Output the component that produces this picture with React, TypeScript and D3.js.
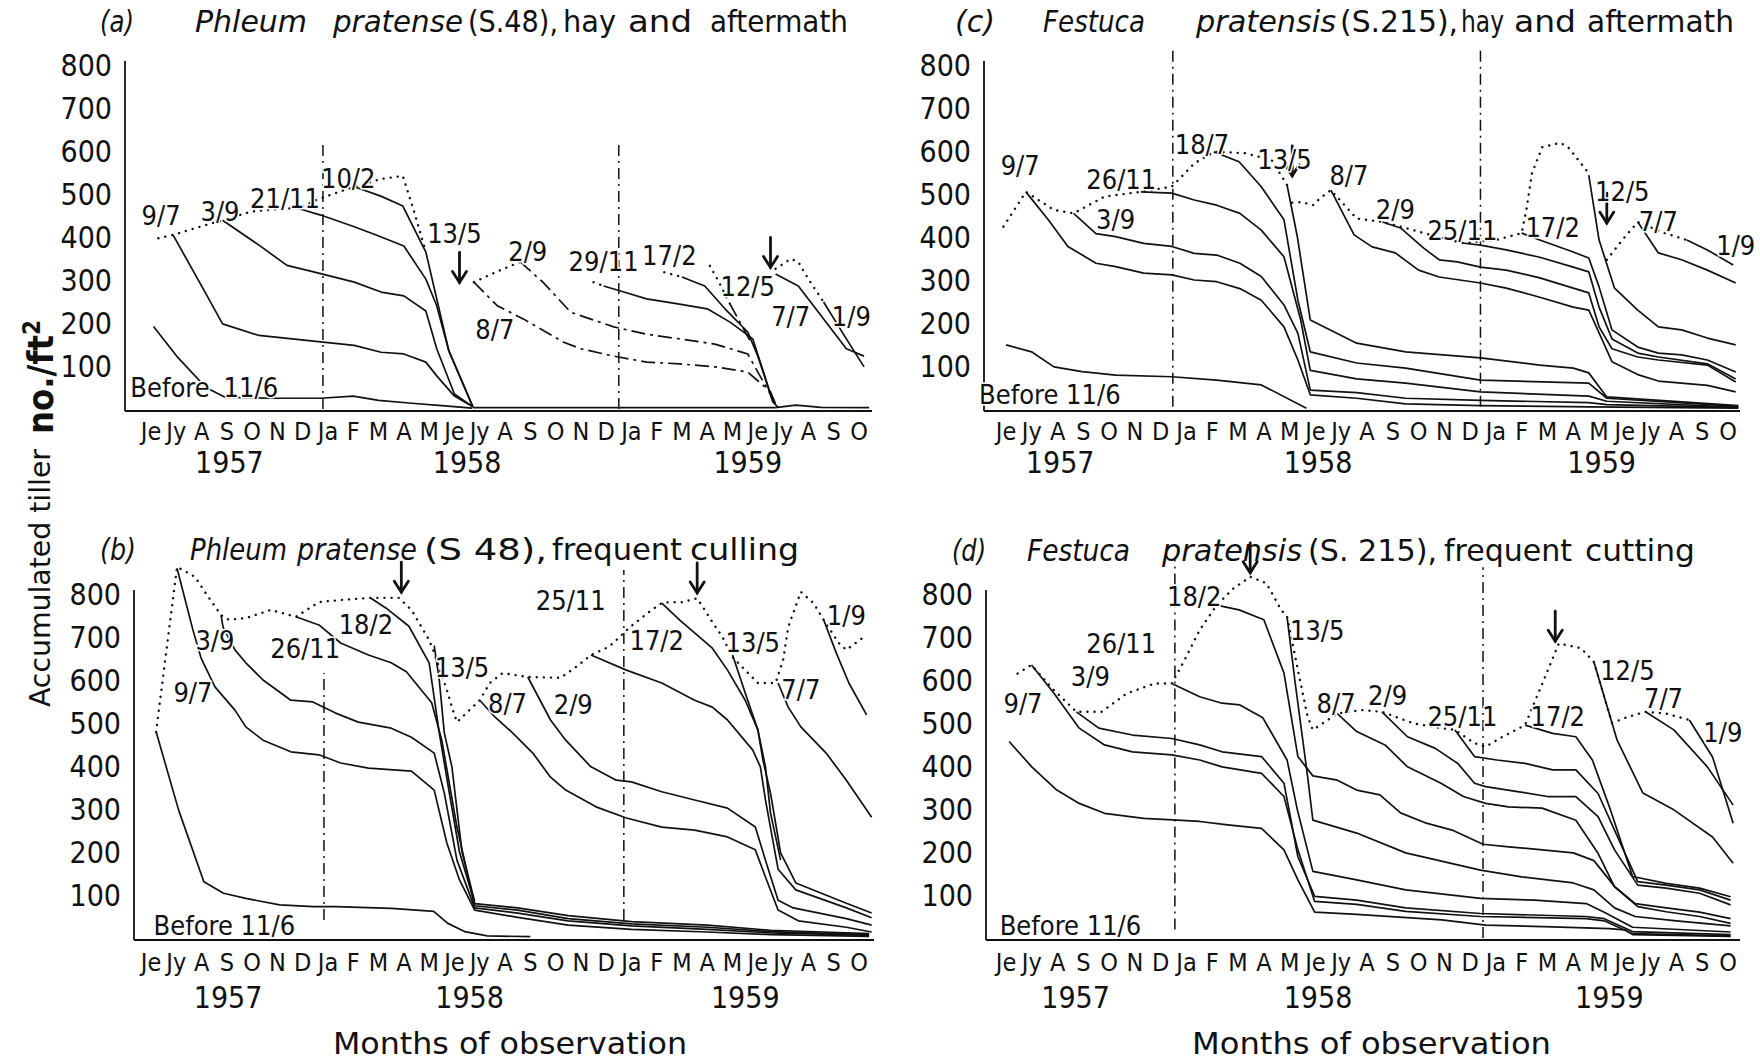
import React from "react";
import * as d3 from "d3";

type Pt = [number, number];
type Label = [string, number, number];

const FONT = "'Liberation Sans Narrow','DejaVu Sans Condensed','Arial Narrow',sans-serif";

const MONTHS = ["Je","Jy","A","S","O","N","D","Ja","F","M","A","M","Je","Jy","A","S","O","N","D","Ja","F","M","A","M","Je","Jy","A","S","O"];
const Y_TICKS = [100, 200, 300, 400, 500, 600, 700, 800];

// ---------- Panel (a) ----------
const A_TITLE = ["(a)", "Phleum", "pratense", "(S.48),", "hay", "and", "aftermath"];
const A_SOLID: Pt[][] = [
  [[0.1,192],[1.06,120],[2.17,50],[2.95,27],[5.0,25],[6.7,25],[8.0,30],[9.0,20],[10.2,14],[11.5,8],[12.7,2]],
  [[0.87,405],[2.06,280],[2.83,198],[4.27,171],[6.71,156],[8.04,148],[9.1,132],[10.0,128],[10.87,109],[11.3,77],[12.0,30],[12.73,5]],
  [[2.83,439],[4.27,381],[5.38,334],[6.71,315],[8.04,295],[9.1,272],[10.0,263],[10.87,228],[11.3,140],[12.0,35],[12.73,5]],
  [[5.8,467],[6.71,451],[8.04,424],[8.93,404],[10.0,379],[10.87,302],[11.3,240],[11.78,135],[12.73,5]],
  [[8.04,517],[9.09,495],[9.96,472],[10.87,365],[11.78,135],[12.73,5]],
  [[17.9,286],[18.7,272],[19.6,256],[20.9,244],[22.0,233],[22.9,202],[23.8,163],[24.6,16],[24.8,4]],
  [[21.0,307],[21.9,286],[22.7,233],[23.6,179],[24.0,123],[24.6,16]],
  [[24.7,314],[25.6,286],[26.2,240],[27.5,140],[28.2,123]],
  [[26.6,249],[27.5,163],[28.2,98]],
  [[12.73,3],[24.7,3],[25.5,9],[26.5,4],[28.4,3]],
];
const A_DASHDOT: Pt[][] = [
  [[12.77,295],[13.7,240],[14.74,209],[16.3,156],[17.0,140],[18.3,123],[19.6,109],[20.9,105],[22.3,98],[23.6,86],[24.5,40],[24.75,5]],
  [[14.6,342],[15.5,295],[16.6,225],[18.3,191],[19.6,174],[20.9,163],[22.3,151],[23.6,128],[24.6,23],[24.75,5]],
  [[22.9,244],[23.7,158]],
];
const A_TOTAL: Pt[][] = [
  [[0.29,397],[0.87,405],[2.0,425],[2.83,439],[3.95,459],[5.0,465],[5.8,467],[6.7,490],[8.04,517],[9.1,535],[9.96,542],[10.4,460],[10.87,365]],
  [[12.77,295],[13.7,320],[14.6,342]],
  [[17.5,295],[17.9,286]],
  [[20.3,318],[21.0,307]],
  [[22.1,333],[22.4,302],[22.9,244]],
  [[24.7,326],[25.3,349],[25.6,342],[26.0,302],[26.6,249]],
];
const A_ARROWS: Pt[] = [[12.2,285],[24.5,320]];
const A_LABELS: Label[] = [
  ["9/7",0.4,451],["3/9",2.73,459],["21/11",5.3,490],["10/2",7.8,537],["13/5",12.0,408],
  ["2/9",14.9,367],["8/7",13.6,186],["29/11",17.9,342],["17/2",20.5,356],["12/5",23.6,286],
  ["7/7",25.3,216],["1/9",27.7,216],["Before",0.75,51],["11/6",3.95,51],
];
const A_YEARLINES: [number, number, number][] = [[6.8,0,614],[18.5,0,620]];
const A_YEARS: [string, number][] = [["1957",3.1],["1958",12.5],["1959",23.6]];

// ---------- Panel (b) ----------
const B_TITLE = ["(b)", "Phleum", "pratense", "(S 48),", "frequent", "culling"];
const B_SOLID: Pt[][] = [
  [[0.2,480],[1.09,298],[2.09,131],[2.87,104],[3.75,92],[5.09,77],[6.42,73],[7.3,73],[9.52,69],[11.18,62],[11.74,34],[12.4,15],[13.3,5],[15,3]],
  [[1.03,860],[1.66,716],[1.98,651],[2.53,584],[3.32,530],[3.75,491],[4.43,460],[5.53,433],[6.64,426],[7.5,407],[8.6,395],[10.3,388],[11.2,344],[11.7,221],[12.2,135],[12.8,65],[14.5,48],[16.5,30],[19,20],[22,14],[24.5,8],[28.4,4]],
  [[2.77,751],[2.85,723],[3.32,670],[3.75,640],[4.43,600],[5.53,553],[6.4,549],[7.3,523],[8.2,502],[9.5,488],[10.3,467],[11.2,430],[11.6,337],[12.1,181],[12.8,70],[14.5,58],[16.5,40],[19,28],[22,20],[24.5,12],[28.4,6]],
  [[5.73,747],[6.64,728],[7.5,686],[8.6,658],[9.5,640],[10.1,619],[11.1,547],[11.5,460],[12.1,258],[12.8,75],[14.5,65],[16.5,45],[19,33],[22,25],[24.5,15],[28.4,8]],
  [[8.7,790],[9.3,767],[10.2,725],[11.0,640],[11.4,477],[11.8,337],[12.2,200],[12.8,80],[14.5,70],[16.5,52],[19,38],[22,30],[24.5,18],[28.4,10]],
  [[11.2,680],[11.4,600],[11.6,477],[11.9,398],[12.3,200],[12.8,85]],
  [[13.0,553],[13.6,514],[14.3,477],[15.1,430],[15.8,374],[16.4,344],[17.6,305],[18.8,279],[20.2,258],[21.5,251],[22.8,235],[23.9,205],[24.3,142],[24.8,65],[25.6,40],[27.5,25],[28.5,14]],
  [[14.9,607],[15.8,507],[16.4,460],[17.4,398],[18.4,367],[19.0,363],[20.2,340],[21.5,321],[22.8,302],[23.9,258],[24.3,181],[24.8,88],[25.4,70],[27.5,45],[28.5,30]],
  [[17.4,658],[18.8,623],[20.2,593],[21.5,553],[22.2,537],[22.8,507],[23.8,437],[24.1,398],[24.3,321],[24.8,160],[25.5,112],[27.5,70],[28.5,47]],
  [[20.2,779],[20.9,740],[22.2,674],[22.8,623],[23.5,553],[24.0,484],[24.2,414],[24.5,337],[24.9,198],[25.5,128],[27.5,81],[28.5,58]],
  [[23.0,658],[23.5,570],[24.0,484],[24.3,398],[24.5,291],[24.9,181]],
  [[24.8,593],[25.2,537],[25.7,491],[26.7,430],[27.5,367],[28.5,281]],
  [[26.6,740],[27.1,663],[27.6,593],[28.3,519]],
];
const B_TOTAL: Pt[][] = [
  [[0.2,479],[1.03,863],[1.74,840],[2.21,798],[2.77,751],[3.08,740],[3.75,744],[4.74,763],[5.73,747],[6.64,781],[7.5,786],[8.7,791],[9.8,791],[10.3,763],[11.0,693],[11.2,663],[11.7,577],[11.9,537],[12.1,502],[13.0,553],[13.4,593],[13.9,616],[14.9,607],[16.2,605],[16.8,630],[17.4,658],[18.1,677],[18.5,698],[18.9,721],[19.8,763],[20.2,779],[20.5,781],[21.0,781],[21.6,790],[21.9,763],[22.2,735],[22.6,700],[23.0,653],[24.0,593],[24.7,593],[25.0,647],[25.2,723],[25.7,805],[26.2,779],[26.6,740],[27.2,686],[27.5,670],[28.3,705]],
];
const B_ARROWS: Pt[] = [[9.9,795],[21.6,793]];
const B_LABELS: Label[] = [
  ["3/9",2.53,693],["9/7",1.66,570],["26/11",6.1,674],["18/2",8.5,728],["13/5",12.3,628],
  ["8/7",14.1,546],["2/9",16.7,542],["25/11",16.6,786],["17/2",20.0,693],["13/5",23.8,688],
  ["7/7",25.7,577],["1/9",27.5,751],["Before 11/6",2.9,30],
];
const B_YEARLINES: [number, number, number][] = [[6.84,42,616],[18.7,42,856]];
const B_YEARS: [string, number][] = [["1957",3.05],["1958",12.6],["1959",23.5]];

// ---------- Panel (c) ----------
const C_TITLE = ["(c)", "Festuca", "pratensis", "(S.215),", "hay", "and", "aftermath"];
const C_SOLID: Pt[][] = [
  [[0,149],[0.99,133],[1.86,98],[2.95,87],[4.25,79],[6.43,75],[8.17,67],[9.9,56],[11.65,2]],
  [[0.77,505],[1.64,440],[2.4,378],[3.49,339],[4.25,331],[5.34,316],[6.43,312],[7.3,300],[8.17,296],[9.07,280],[9.9,253],[10.78,191],[11.32,114],[11.8,33],[13.6,25],[15.5,12],[18.4,8],[22.6,5],[28.4,2]],
  [[2.62,455],[3.49,408],[4.25,401],[5.34,385],[6.43,378],[7.3,362],[8.17,358],[9.07,339],[9.9,308],[10.78,242],[11.32,176],[11.8,44],[13.6,38],[15.5,25],[18.4,20],[22.6,15],[23.3,10],[28.4,3]],
  [[5.23,505],[6.43,502],[7.3,486],[8.17,474],[9.07,455],[9.9,416],[10.78,354],[11.43,207],[11.8,90],[13.6,70],[15.5,60],[18.4,40],[22.6,30],[23.3,18],[28.4,4]],
  [[8.06,598],[9.04,575],[9.9,517],[10.78,440],[11.32,253],[11.8,133],[13.6,107],[15.5,95],[18.4,67],[22.6,60],[23.3,25],[28.4,6]],
  [[10.9,521],[11.3,400],[11.8,207],[13.6,153],[15.5,133],[18.4,119],[20.7,102],[22.0,95],[22.6,84],[23.3,28],[28.4,8]],
  [[12.6,509],[13.5,405],[14.2,377],[15.1,363],[16.0,323],[16.8,307],[18.4,293],[19.4,281],[20.7,260],[22.0,237],[22.6,230],[23.0,177],[23.5,110],[24.5,80],[25.3,65],[27.2,55],[28.3,40]],
  [[14.6,435],[15.3,421],[16.2,374],[16.8,347],[17.5,342],[18.4,330],[19.4,323],[20.7,305],[22.0,281],[22.6,270],[23.0,191],[23.5,140],[24.5,121],[25.3,114],[27.2,102],[28.3,63]],
  [[17.7,386],[18.4,381],[19.4,370],[20.7,353],[22.0,330],[22.6,319],[23.0,237],[23.5,163],[24.5,130],[25.3,121],[27.2,105],[28.3,70]],
  [[20.0,409],[20.7,393],[22.0,365],[22.6,351],[23.0,284],[23.5,184],[24.5,144],[25.3,130],[26.2,126],[27.2,114],[28.3,86]],
  [[22.6,544],[23.0,393],[23.6,281],[24.5,230],[25.3,191],[26.2,184],[27.2,165],[28.3,149]],
  [[24.5,435],[25.3,363],[26.2,347],[27.2,323],[28.3,293]],
  [[26.4,393],[27.2,370],[28.2,335]],
];
const C_TOTAL: Pt[][] = [
  [[-0.1,424],[0.77,505],[1.86,463],[2.62,455],[3.82,494],[5.23,505],[6.43,517],[7.3,571],[8.06,598],[9.26,595],[10.3,579],[10.9,521]],
  [[11.1,480],[11.5,481],[11.9,474],[12.2,491],[12.6,509],[13.6,443],[14.6,435],[15.8,416],[16.7,401],[17.7,386],[19.0,393],[20.0,409],[20.2,470],[20.4,549],[20.8,609],[21.5,619],[21.8,609],[22.5,556],[22.6,544]],
  [[23.3,347],[23.9,393],[24.5,435],[25.5,410],[26.4,393]],
];
const C_ARROWS: Pt[] = [[11.1,533],[23.3,423]];
const C_LABELS: Label[] = [
  ["9/7",0.55,567],["26/11",4.47,533],["3/9",4.25,440],["18/7",7.6,614],["13/5",10.8,580],
  ["8/7",13.3,544],["2/9",15.1,463],["25/11",17.7,416],["17/2",21.2,423],["12/5",23.9,505],
  ["7/7",25.3,435],["1/9",28.3,381],["Before 11/6",1.7,33],
];
const C_YEARLINES: [number, number, number][] = [[6.47,5,835],[18.4,5,835]];
const C_YEARS: [string, number][] = [["1957",2.1],["1958",12.1],["1959",23.1]];

// ---------- Panel (d) ----------
const D_TITLE = ["(d)", "Festuca", "pratensis", "(S. 215),", "frequent", "cutting"];
const D_SOLID: Pt[][] = [
  [[0.12,457],[1.0,398],[1.97,344],[2.84,313],[3.82,290],[5.34,278],[6.64,274],[7.51,271],[8.6,263],[9.91,255],[10.78,205],[11.32,135],[11.97,60],[13.6,55],[16.9,42],[18.6,30],[21.2,26],[23.4,22],[24.0,19],[24.3,8],[28.1,4]],
  [[0.99,635],[1.86,569],[2.84,488],[3.82,449],[4.9,433],[6.43,426],[7.51,414],[8.38,398],[9.91,383],[10.78,329],[11.32,205],[11.97,85],[13.6,78],[15.5,62],[18.4,50],[22.5,45],[23.2,40],[24.3,10],[28.1,5]],
  [[2.73,526],[3.6,488],[4.9,472],[6.43,464],[7.51,449],[8.38,433],[9.91,422],[10.78,360],[11.32,189],[11.97,97],[13.6,88],[15.5,70],[18.4,57],[22.5,50],[23.2,45],[24.3,15],[28.1,8]],
  [[6.43,592],[7.51,561],[8.38,546],[9.07,542],[9.96,512],[10.9,414],[11.3,298],[11.9,155],[13.6,135],[15.5,112],[18.4,92],[20.5,88],[22.5,80],[23.2,60],[24.3,25],[28.1,14]],
  [[8.17,774],[9.04,763],[10.0,740],[10.78,616],[11.32,422],[11.9,377],[12.85,367],[13.6,344],[14.5,333],[15.3,291],[16.3,267],[17.3,251],[18.5,218],[19.5,212],[20.8,205],[22.0,198],[22.8,180],[23.6,120],[24.4,80],[25.6,70],[26.9,60],[28.1,45]],
  [[10.9,747],[11.2,600],[11.7,374],[11.9,274],[13.6,244],[15.5,198],[18.4,158],[20.0,142],[22.0,128],[22.8,112],[23.6,70],[24.4,50],[26,40],[28.1,28]],
  [[12.85,522],[13.6,480],[14.7,449],[15.57,398],[16.87,360],[17.74,329],[18.6,313],[19.48,305],[20.79,302],[22.1,274],[22.96,197],[23.6,119],[24.5,73],[25.6,61],[26.9,50],[28.1,34]],
  [[14.58,526],[15.57,468],[16.65,441],[17.52,406],[18.17,360],[18.6,352],[19.9,340],[21.0,329],[22.1,329],[22.96,282],[23.6,205],[24.5,123],[25.6,116],[26.9,104],[28.1,77]],
  [[17.41,484],[18.17,422],[19.04,414],[20.13,406],[21.2,391],[22.1,391],[22.96,336],[23.6,251],[24.5,131],[25.6,123],[26.9,112],[28.1,88]],
  [[20.13,495],[21.2,476],[22.1,468],[22.74,414],[23.4,305],[24.3,143],[25.6,127],[26.9,116],[28.1,96]],
  [[22.8,642],[23.7,460],[24.7,337],[25.9,298],[27.4,235],[28.2,174]],
  [[24.8,526],[25.9,484],[27.2,398],[28.2,309]],
  [[26.5,507],[27.4,421],[28.2,267]],
];
const D_TOTAL: Pt[][] = [
  [[0.45,615],[0.99,635],[1.8,580],[2.73,526],[3.7,526],[4.69,569],[5.77,592],[6.43,592],[6.86,639],[7.51,716],[8.17,774],[8.82,813],[9.47,840],[10.1,825],[10.67,763],[10.9,747],[11.4,600],[11.7,514],[11.9,484],[12.85,522],[13.8,530],[14.58,526],[15.8,499],[16.87,488],[17.41,484],[18.17,453],[18.6,445],[19.26,468],[20.13,495],[20.8,592],[21.44,685],[22.3,674],[22.8,642],[23.5,500],[24.1,514],[24.8,526],[25.6,522],[26.5,507]],
];
const D_ARROWS: Pt[] = [[9.47,840],[21.3,681]];
const D_LABELS: Label[] = [
  ["9/7",0.66,546],["3/9",3.27,608],["26/11",4.47,685],["18/2",7.3,794],["13/5",12.07,716],
  ["8/7",12.8,546],["2/9",14.8,565],["25/11",17.7,514],["17/2",21.4,514],["12/5",24.1,623],
  ["7/7",25.5,558],["1/9",27.8,479],["Before 11/6",2.5,28],
];
const D_YEARLINES: [number, number, number][] = [[6.55,20,880],[18.5,0,862]];
const D_YEARS: [string, number][] = [["1957",2.7],["1958",12.1],["1959",23.4]];

// ---------- layout (positions / sizes) ----------
type Layout = {
  xRange: [number, number]; yRange: [number, number]; axisX: number; axisRight: number;
  monthY: number; yearY: number; titleY: number; titleSpans: [number, number][];
};
const LAYOUT_A: Layout = { xRange: [151, 859], yRange: [409, 65], axisX: 125, axisRight: 872, monthY: 431, yearY: 462, titleY: 32,
  titleSpans: [[100,134],[195,307],[333,463],[468,558],[563,616],[628,692],[710,848]] };
const LAYOUT_B: Layout = { xRange: [151, 859], yRange: [938, 594], axisX: 134, axisRight: 874, monthY: 962, yearY: 997, titleY: 560,
  titleSpans: [[100,136],[190,287],[297,417],[424,547],[552,682],[690,799]] };
const LAYOUT_C: Layout = { xRange: [1006, 1728], yRange: [409, 65], axisX: 984, axisRight: 1740, monthY: 431, yearY: 462, titleY: 32,
  titleSpans: [[955,995],[1043,1145],[1196,1336],[1340,1458],[1461,1504],[1514,1576],[1587,1734]] };
const LAYOUT_D: Layout = { xRange: [1006, 1728], yRange: [938, 594], axisX: 986, axisRight: 1740, monthY: 962, yearY: 997, titleY: 561,
  titleSpans: [[952,986],[1027,1130],[1162,1302],[1308,1437],[1444,1572],[1585,1695]] };

type PanelProps = {
  layout: Layout; title: string[]; solid: Pt[][]; dashdot?: Pt[][]; total: Pt[][];
  arrows: Pt[]; labels: Label[]; yearLines: [number, number, number][]; years: [string, number][];
};

function Panel(p: PanelProps) {
  const L = p.layout;
  const x = d3.scaleLinear().domain([0, 28]).range(L.xRange);
  const y = d3.scaleLinear().domain([0, 800]).range(L.yRange);
  const line = d3.line<Pt>().x(d => x(d[0])).y(d => y(d[1]));
  const base = y(0);
  return (
    <g fontFamily={FONT} fill="#111">
      {p.title.map((t, i) => {
        const s = L.titleSpans[i];
        return (
          <text key={"t" + i} x={s[0]} y={L.titleY} fontSize={30} fontStyle={i < 3 ? "italic" : "normal"}
            textLength={s[1] - s[0]} lengthAdjust="spacingAndGlyphs">{t}</text>
        );
      })}
      {/* axes */}
      <line x1={L.axisX} x2={L.axisX} y1={base + 2} y2={y(800) - 4} stroke="#111" strokeWidth={1.8} />
      <line x1={L.axisX} x2={L.axisRight} y1={base + 2} y2={base + 2} stroke="#111" strokeWidth={2} />
      {Y_TICKS.map(t => (
        <text key={"y" + t} x={L.axisX - 13} y={y(t)} fontSize={30} textAnchor="end" dominantBaseline="central">{t}</text>
      ))}
      {MONTHS.map((m, i) => (
        <text key={"m" + i} x={x(i)} y={L.monthY} fontSize={25} textAnchor="middle" dominantBaseline="central">{m}</text>
      ))}
      {p.years.map(([t, i]) => (
        <text key={"yr" + t} x={x(i)} y={L.yearY} fontSize={30} textAnchor="middle" dominantBaseline="central">{t}</text>
      ))}
      {/* year boundaries */}
      {p.yearLines.map(([m, v0, v1], i) => (
        <line key={"yl" + i} x1={x(m)} x2={x(m)} y1={y(v0)} y2={y(v1)} stroke="#111" strokeWidth={1.5}
          strokeDasharray="11 5 2 5" />
      ))}
      {/* curves */}
      {p.solid.map((c, i) => (
        <path key={"s" + i} d={line(c) || ""} fill="none" stroke="#111" strokeWidth={1.7} strokeLinejoin="round" />
      ))}
      {(p.dashdot || []).map((c, i) => (
        <path key={"dd" + i} d={line(c) || ""} fill="none" stroke="#111" strokeWidth={1.7} strokeDasharray="14 5 3 5" />
      ))}
      {p.total.map((c, i) => (
        <path key={"tt" + i} d={line(c) || ""} fill="none" stroke="#111" strokeWidth={2.4} strokeLinecap="round"
          strokeDasharray="0.1 7" />
      ))}
      {p.arrows.map(([m, v], i) => {
        const ax = x(m), ay = y(v) - 4;
        return (
          <g key={"a" + i} stroke="#111" strokeWidth={2.8} fill="none" strokeLinecap="round">
            <line x1={ax} x2={ax} y1={ay - 30} y2={ay} />
            <path d={`M${ax - 7},${ay - 11}L${ax},${ay}L${ax + 7},${ay - 11}`} />
          </g>
        );
      })}
      {p.labels.map(([t, m, v], i) => (
        <text key={"l" + i} x={x(m)} y={y(v)} fontSize={27} textAnchor="middle" dominantBaseline="central"
          stroke="#fff" strokeWidth={3} paintOrder="stroke">{t}</text>
      ))}
    </g>
  );
}

export default function App() {
  return (
    <div style={{ position: "absolute", left: 0, top: 0, background: "#fff" }}>
      <svg width={1760} height={1061} viewBox="0 0 1760 1061" style={{ display: "block", background: "#fff" }}>
        <rect width={1760} height={1061} fill="#fff" />
        <Panel layout={LAYOUT_A} title={A_TITLE} solid={A_SOLID} dashdot={A_DASHDOT} total={A_TOTAL}
          arrows={A_ARROWS} labels={A_LABELS} yearLines={A_YEARLINES} years={A_YEARS} />
        <Panel layout={LAYOUT_B} title={B_TITLE} solid={B_SOLID} total={B_TOTAL}
          arrows={B_ARROWS} labels={B_LABELS} yearLines={B_YEARLINES} years={B_YEARS} />
        <Panel layout={LAYOUT_C} title={C_TITLE} solid={C_SOLID} total={C_TOTAL}
          arrows={C_ARROWS} labels={C_LABELS} yearLines={C_YEARLINES} years={C_YEARS} />
        <Panel layout={LAYOUT_D} title={D_TITLE} solid={D_SOLID} total={D_TOTAL}
          arrows={D_ARROWS} labels={D_LABELS} yearLines={D_YEARLINES} years={D_YEARS} />
        <g fontFamily={FONT} fill="#111">
          <text transform="rotate(-90)" x={-707} y={50} fontSize={29} textLength={258} lengthAdjust="spacingAndGlyphs">Accumulated tiller</text>
          <text transform="rotate(-90)" x={-434} y={53} fontSize={36} fontWeight="bold">no./ft<tspan dy={-13} fontSize={24}>2</tspan></text>
          <text x={333} y={1054} fontSize={30} textLength={354} lengthAdjust="spacingAndGlyphs">Months of observation</text>
          <text x={1192} y={1054} fontSize={30} textLength={359} lengthAdjust="spacingAndGlyphs">Months of observation</text>
        </g>
      </svg>
    </div>
  );
}
